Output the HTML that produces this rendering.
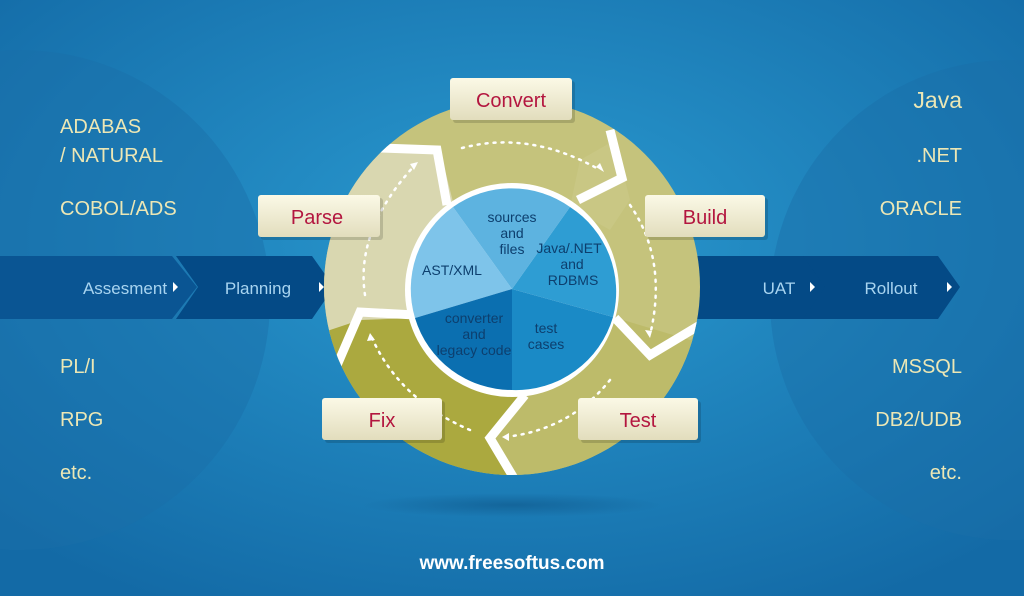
<!DOCTYPE html>
<html><head><style>
html,body{margin:0;padding:0;width:1024px;height:596px;overflow:hidden;background:#1d82bd;}
svg{display:block}
text{font-family:"Liberation Sans Narrow","Liberation Sans",sans-serif;}
</style></head><body>
<svg width="1024" height="596" viewBox="0 0 1024 596" xmlns="http://www.w3.org/2000/svg">
<defs>
<radialGradient id="bg" cx="0.5" cy="0.4" r="0.7">
<stop offset="0" stop-color="#2a9ad0"/><stop offset="1" stop-color="#136aa6"/>
</radialGradient>
<radialGradient id="sh" cx="0.5" cy="0.5" r="0.5">
<stop offset="0" stop-color="#0c4f80" stop-opacity="0.5"/><stop offset="1" stop-color="#0c4f80" stop-opacity="0"/>
</radialGradient>
<linearGradient id="box" x1="0" y1="0" x2="0" y2="1">
<stop offset="0" stop-color="#fbf9e6"/><stop offset="1" stop-color="#e2ddbd"/>
</linearGradient>
<clipPath id="cc"><circle cx="512" cy="287" r="188"/></clipPath>
</defs>
<rect width="1024" height="596" fill="url(#bg)"/>
<circle cx="20" cy="300" r="250" fill="#1a6fa8" opacity="0.45"/>
<circle cx="1010" cy="300" r="240" fill="#1a6fa8" opacity="0.45"/>
<ellipse cx="512" cy="505" rx="150" ry="12" fill="url(#sh)"/>
<polygon points="0,256 172,256 197,287 172,319 0,319" fill="#0a5593"/>
<polygon points="176,256 312,256 334,287 312,319 176,319 198,287" fill="#044a86"/>
<polygon points="690,256 812,256 835,287 812,319 690,319" fill="#044a86"/>
<polygon points="803,256 938,256 960,287 938,319 803,319 825,287" fill="#044a86"/>
<text x="125" y="294" font-size="17" fill="#a8d4f0" text-anchor="middle">Assesment</text>
<polygon points="173,282 178,287 173,292" fill="#fff"/>
<text x="258" y="294" font-size="17" fill="#a8d4f0" text-anchor="middle">Planning</text>
<polygon points="319,282 324,287 319,292" fill="#fff"/>
<text x="779" y="294" font-size="17" fill="#a8d4f0" text-anchor="middle">UAT</text>
<polygon points="810,282 815,287 810,292" fill="#fff"/>
<text x="891" y="294" font-size="17" fill="#a8d4f0" text-anchor="middle">Rollout</text>
<polygon points="947,282 952,287 947,292" fill="#fff"/>
<g clip-path="url(#cc)">
<rect x="320" y="95" width="390" height="390" fill="#c5c37c"/>
<polygon points="300,140 440,150 455,210 415,318 350,330 300,340" fill="#d9d7b0"/>
<polygon points="300,340 360,320 415,318 512,388 525,400 490,440 520,480 300,500" fill="#aba93f"/>
<polygon points="512,388 613,317 690,340 720,330 720,500 520,500 490,440 525,400" fill="#bdbb6a"/>
<polygon points="570,207 580,160 615,140 630,200 610,230" fill="#c9c784"/>
<polyline points="380,148 437,150 447,205" fill="none" stroke="#fff" stroke-width="9"/>
<polyline points="610,130 622,178 578,200" fill="none" stroke="#fff" stroke-width="9"/>
<polyline points="615,318 650,355 700,325" fill="none" stroke="#fff" stroke-width="9"/>
<polyline points="525,395 490,438 515,480" fill="none" stroke="#fff" stroke-width="9"/>
<polyline points="415,315 360,312 335,370" fill="none" stroke="#fff" stroke-width="9"/>
</g>
<g fill="none" stroke="#fff" stroke-width="2.5" stroke-dasharray="2 6" stroke-linecap="round">
<path d="M462,148 Q530,130 600,170"/>
<path d="M630,205 Q668,260 650,335"/>
<path d="M610,380 Q570,430 505,437"/>
<path d="M470,430 Q400,400 372,338"/>
<path d="M365,295 Q355,230 415,165"/>
</g>
<g fill="#fff">
<polygon points="604,172 596,167 600,163"/>
<polygon points="650,338 645,330 652,331"/>
<polygon points="502,437 509,433 509,441"/>
<polygon points="370,333 367,341 375,340"/>
<polygon points="418,162 410,164 414,170"/>
</g>
<circle cx="512" cy="290" r="107" fill="#fff"/>
<g>
<path d="M512,289 L415,318 A101,101 0 0 1 453,207 Z" fill="#7ec4ea"/>
<path d="M512,289 L453,207 A101,101 0 0 1 570,207 Z" fill="#5db3e0"/>
<path d="M512,289 L570,207 A101,101 0 0 1 613,317 Z" fill="#2e9dd3"/>
<path d="M512,289 L613,317 A101,101 0 0 1 512,390 Z" fill="#1a8ac6"/>
<path d="M512,289 L512,390 A101,101 0 0 1 415,318 Z" fill="#0b6fb0"/>
</g>
<g font-size="14" fill="#0d3f6e" text-anchor="middle">
<text x="512" y="222">sources</text><text x="512" y="238">and</text><text x="512" y="254">files</text>
<text x="569" y="253">Java/.NET</text><text x="572" y="269">and</text><text x="573" y="285">RDBMS</text>
<text x="452" y="275">AST/XML</text>
<text x="474" y="323">converter</text><text x="474" y="339">and</text><text x="474" y="355">legacy code</text>
<text x="546" y="333">test</text><text x="546" y="349">cases</text>
</g>
<g>
<rect x="453" y="81" width="122" height="42" rx="3" fill="#000" opacity="0.15"/>
<rect x="450" y="78" width="122" height="42" rx="3" fill="url(#box)"/>
<rect x="261" y="198" width="122" height="42" rx="3" fill="#000" opacity="0.15"/>
<rect x="258" y="195" width="122" height="42" rx="3" fill="url(#box)"/>
<rect x="648" y="198" width="120" height="42" rx="3" fill="#000" opacity="0.15"/>
<rect x="645" y="195" width="120" height="42" rx="3" fill="url(#box)"/>
<rect x="325" y="401" width="120" height="42" rx="3" fill="#000" opacity="0.15"/>
<rect x="322" y="398" width="120" height="42" rx="3" fill="url(#box)"/>
<rect x="581" y="401" width="120" height="42" rx="3" fill="#000" opacity="0.15"/>
<rect x="578" y="398" width="120" height="42" rx="3" fill="url(#box)"/>
</g>
<g font-size="20" fill="#b3163f" text-anchor="middle">
<text x="511" y="107">Convert</text>
<text x="317" y="224">Parse</text>
<text x="705" y="224">Build</text>
<text x="382" y="427">Fix</text>
<text x="638" y="427">Test</text>
</g>
<g font-size="20" fill="#ece7b5">
<text x="60" y="133">ADABAS</text>
<text x="60" y="162">/ NATURAL</text>
<text x="60" y="215">COBOL/ADS</text>
<text x="60" y="373">PL/I</text>
<text x="60" y="426">RPG</text>
<text x="60" y="479">etc.</text>
</g>
<g font-size="20" fill="#ece7b5" text-anchor="end">
<text x="962" y="108" font-size="23">Java</text>
<text x="962" y="162">.NET</text>
<text x="962" y="215">ORACLE</text>
<text x="962" y="373">MSSQL</text>
<text x="962" y="426">DB2/UDB</text>
<text x="962" y="479">etc.</text>
</g>
<text x="512" y="569" font-size="19" font-weight="bold" fill="#ffffff" text-anchor="middle">www.freesoftus.com</text>
</svg>
</body></html>
